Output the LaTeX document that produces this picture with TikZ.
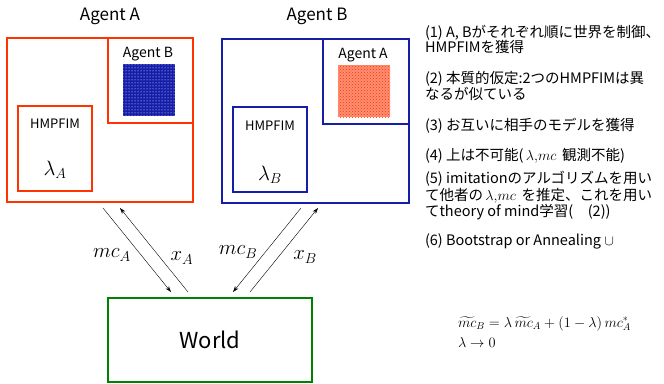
\documentclass[tikz,border=0pt]{standalone}
\usepackage{fontspec}
\setmainfont{Noto Sans CJK JP}
\usepackage{amsmath}
\usetikzlibrary{patterns,arrows.meta}
\definecolor{agred}{RGB}{255,51,0}
\definecolor{agblue}{RGB}{20,30,170}
\definecolor{wgreen}{RGB}{0,130,0}
\newcommand{\fs}[1]{\fontsize{#1}{#1}\selectfont}

\begin{document}
\begin{tikzpicture}[x=1pt, y=-1pt]
		\useasboundingbox (0,0) rectangle (664,383);
		\tikzstyle{every node}=[inner sep=0pt, outer sep=0pt]
		\tikzstyle{redbox}=[draw=agred, line width=2pt]
		\tikzstyle{bluebox}=[draw=agblue, line width=2pt]
		\tikzstyle{note}=[anchor=base west, font=\fs{14.5}]
		\tikzstyle{lab}=[font=\fs{20}]

		% agent A
		\node (tita) at (110, 16) {\fs{17}Agent A};
		\node[redbox, minimum width=186, minimum height=164] (agenta) at (100, 120) {};
		\node[redbox, minimum width=85, minimum height=85] (inb) at (150.5, 80.5) {};
		\node (labb) at (148, 54) {\fs{14}Agent B};
		\node[minimum size=52, fill=agblue, postaction={pattern=dots, pattern color=white}] (dotb) at (149, 90) {};
		\node[redbox, minimum width=74, minimum height=85] (hma) at (55, 148.5) {};
		\node (hmlaba) at (55, 124) {\fs{13}HMPFIM};
		\node[lab] (lama) at (55, 170) {$\lambda_A$};

		% agent B
		\node (titb) at (317, 16) {\fs{17}Agent B};
		\node[bluebox, minimum width=187, minimum height=164] (agentb) at (315.5, 121) {};
		\node[bluebox, minimum width=86, minimum height=85] (ina) at (366, 81.5) {};
		\node (laba) at (363, 55) {\fs{14}Agent A};
		\node[minimum size=52, fill=agred!55, postaction={pattern=crosshatch dots, pattern color=agred}] (dota) at (364, 91) {};
		\node[bluebox, minimum width=74, minimum height=85] (hmb) at (270, 149.5) {};
		\node (hmlabb) at (270, 126) {\fs{13}HMPFIM};
		\node[lab] (lamb) at (270, 175) {$\lambda_B$};

		% world
		\node[draw=wgreen, line width=2pt, minimum width=204, minimum height=84, font=\fs{22}] (world) at (210, 340) {World};

		\coordinate (mca1) at (103, 208);
		\coordinate (mca2) at (171, 292);
		\coordinate (xa1) at (188, 292);
		\coordinate (xa2) at (120, 208);
		\coordinate (mcb1) at (301, 208);
		\coordinate (mcb2) at (233, 292);
		\coordinate (xb1) at (250, 292);
		\coordinate (xb2) at (318, 208);
		\draw[-{Stealth[length=6pt, width=4pt]}, thin] (mca1) to (mca2);
		\draw[-{Stealth[length=6pt, width=4pt]}, thin] (xa1) to (xa2);
		\draw[-{Stealth[length=6pt, width=4pt]}, thin] (mcb1) to (mcb2);
		\draw[-{Stealth[length=6pt, width=4pt]}, thin] (xb1) to (xb2);
		\node[lab] (lmca) at (112, 255) {$mc_A$};
		\node[lab] (lxa) at (182, 258) {$x_A$};
		\node[lab] (lmcb) at (238, 252) {$mc_B$};
		\node[lab] (lxb) at (305, 257) {$x_B$};

		% notes
		\node[note] (n1) at (425, 37) {(1) A, Bがそれぞれ順に世界を制御、};
		\node[note] (n1b) at (425, 52) {HMPFIMを獲得};
		\node[note] (n2) at (425, 83) {(2) 本質的仮定:2つのHMPFIMは異};
		\node[note] (n2b) at (425, 99) {なるが似ている};
		\node[note] (n3) at (425, 130) {(3) お互いに相手のモデルを獲得};
		\node[note] (n4) at (425, 160) {(4) 上は不可能(\,$\lambda{,}mc$\, 観測不能)};
		\node[note] (n5) at (425, 183) {(5) imitationのアルゴリズムを用い};
		\node[note] (n5b) at (425, 200) {て他者の\,$\lambda{,}mc$\, を推定、これを用い};
		\node[note] (n5c) at (425, 216) {てtheory of mind学習(\quad(2))};
		\node[note] (n6) at (425, 245) {(6) Bootstrap or Annealing $\cup$};

		\node[anchor=base west, font=\fs{14}] (eq1) at (458, 327) {$\widetilde{mc}_B=\lambda\,\widetilde{mc}_A+(1-\lambda)\,mc_A^*$};
		\node[anchor=base west, font=\fs{14}] (eq2) at (458, 347) {$\lambda\rightarrow 0$};
\end{tikzpicture}
\end{document}
